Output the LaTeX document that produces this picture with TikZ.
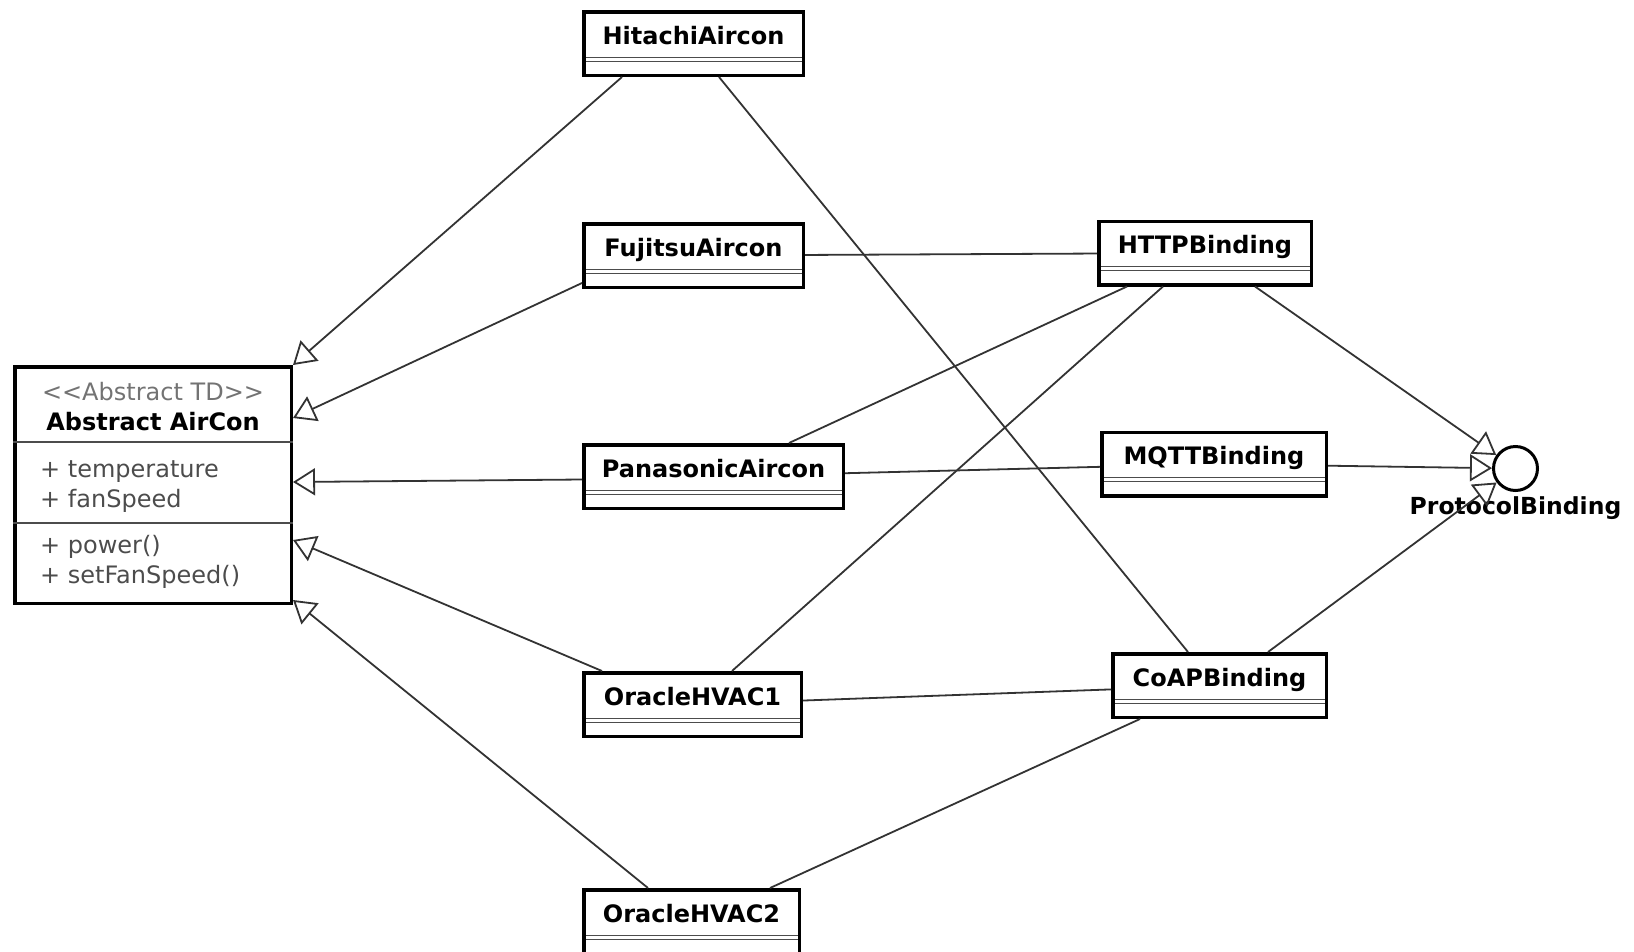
\documentclass[tikz,border=0pt]{standalone}
\usepackage{fontspec}
\setmainfont{DejaVu Sans}
\usetikzlibrary{positioning,arrows.meta}

\definecolor{stereogray}{gray}{0.45}
\definecolor{membergray}{gray}{0.3}
\definecolor{wiregray}{gray}{0.2}

\tikzset{
  clsbox/.style={
  draw=black,
  line width=3.5pt,
  inner sep=0pt,
  minimum width=#1pt,
  minimum height=63.5pt,
  text height=32.5pt,
  text depth=31pt,
  font=\fontsize{24}{28}\selectfont\bfseries,
  path picture={
    \draw[line width=1.2pt,draw=black!70]
      ([yshift=-45.5pt]path picture bounding box.north west) -- ([yshift=-45.5pt]path picture bounding box.north east)
      ([yshift=-49.5pt]path picture bounding box.north west) -- ([yshift=-49.5pt]path picture bounding box.north east);
    }
  },
  absbox/.style={draw=black,line width=3.5pt,minimum width=276.5pt,minimum height=236.5pt},
  member/.style={inner sep=0pt,align=left,text=membergray,font=\fontsize{24}{30}\selectfont},
  sepline/.style={line width=1.2pt,draw=black!70},
  wire/.style={line width=1.8pt,draw=wiregray},
  gen/.style={wire,-{Triangle[open,length=22pt,width=27pt]}},
  iface/.style={circle,draw=black,line width=3pt,minimum size=44pt,inner sep=0pt}
}

\begin{document}
\begin{tikzpicture}[x=1pt,y=-1pt]

  \useasboundingbox (0,0) rectangle (1634,951);

  % abstract thing description
  \node [absbox] (airc) at (153,485) {};
  \node [member,anchor=north,align=center] (airchead) at ([yshift=-14pt]airc.north)
    {\strut\textcolor{stereogray}{<{}<Abstract TD>{}>}\\\textcolor{black}{\bfseries Abstract AirCon}};
  \node [member,anchor=north west] (aircattr) at ([xshift=27pt,yshift=-91pt]airc.north west)
    {\strut+ temperature\\+ fanSpeed};
  \node [member,anchor=north west] (aircops) at ([xshift=27pt,yshift=-167pt]airc.north west)
    {\strut+ power()\\+ setFanSpeed()};
  \draw [sepline] ([yshift=-77pt]airc.north west) -- ([yshift=-77pt]airc.north east);
  \draw [sepline] ([yshift=-158pt]airc.north west) -- ([yshift=-158pt]airc.north east);

  % concrete devices
  \node [clsbox=219.5] (hitachi) at (693.5,43.5) {HitachiAircon};
  \node [clsbox=219.5,below=145pt of hitachi] (fujitsu) {FujitsuAircon};
  \node [clsbox=259.5,below=154pt of fujitsu.south west,anchor=north west] (panasonic) {PanasonicAircon};
  \node [clsbox=217.5,below=161pt of panasonic.south west,anchor=north west] (hvac1) {OracleHVAC1};
  \node [clsbox=215.5,below=150pt of hvac1.south west,anchor=north west] (hvac2) {OracleHVAC2};

  % bindings
  \node [clsbox=212.5,right=292pt of fujitsu,yshift=2.5pt] (http) {HTTPBinding};
  \node [clsbox=224.5,right=255pt of panasonic,yshift=12.5pt] (mqtt) {MQTTBinding};
  \node [clsbox=213.5,right=308pt of hvac1,yshift=19pt] (coap) {CoAPBinding};
  \node [iface,right=164pt of mqtt,yshift=-4.5pt] (pb) {};
  \node [below=4pt of pb,inner sep=0pt,font=\fontsize{23.5}{26}\selectfont\bfseries] (pblabel) {ProtocolBinding};

  \draw [gen] ([xshift=-71.5pt]hitachi.south) -- (airc.north east);
  \draw [gen] ([yshift=6pt]fujitsu.south west) -- ([yshift=-53pt]airc.north east);
  \draw [gen] ([yshift=-3pt]panasonic.west) -- ([yshift=-117pt]airc.north east);
  \draw [gen] ([xshift=20pt]hvac1.north west) -- ([yshift=-175pt]airc.north east);
  \draw [gen] ([xshift=-43.5pt]hvac2.north) -- ([yshift=5pt]airc.south east);

  \draw [wire] (fujitsu) -- (http);
  \draw [wire] (panasonic) -- (mqtt);
  \draw [wire] (hvac1) -- (coap);
  \draw [wire] ([xshift=75.5pt]panasonic.north) -- ([xshift=-78pt]http.south);
  \draw [wire] ([xshift=39.5pt]hvac1.north) -- ([xshift=-42pt]http.south);
  \draw [wire] ([xshift=25.5pt]hitachi.south) -- ([xshift=-31.5pt]coap.north);
  \draw [wire] ([xshift=78.5pt]hvac2.north) -- ([xshift=-79.5pt]coap.south);

  \draw [gen] ([xshift=50pt]http.south) -- (pb);
  \draw [gen] (mqtt) -- (pb);
  \draw [gen] ([xshift=48.5pt]coap.north) -- (pb);

\end{tikzpicture}
\end{document}
